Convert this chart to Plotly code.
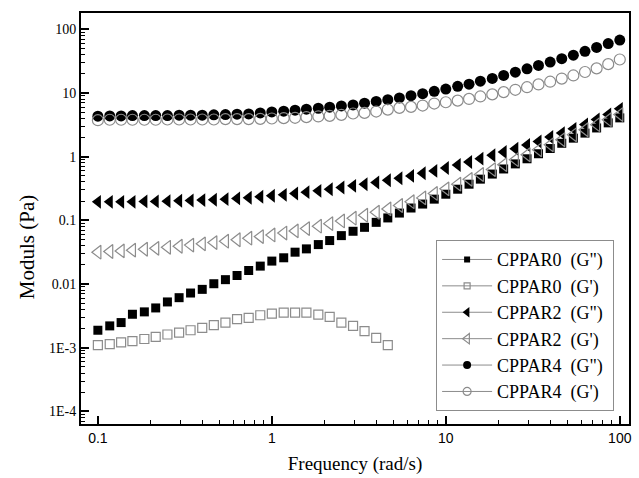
import plotly.graph_objects as go

# Frequency (rad/s), 15 points per decade
freq = [0.1, 0.117, 0.136, 0.158, 0.185, 0.215, 0.251, 0.293, 0.341, 0.398,
        0.464, 0.541, 0.631, 0.736, 0.858, 1.0, 1.17, 1.36, 1.58, 1.85,
        2.15, 2.51, 2.93, 3.41, 3.98, 4.64, 5.41, 6.31, 7.36, 8.58,
        10.0, 11.7, 13.6, 15.8, 18.5, 21.5, 25.1, 29.3, 34.1, 39.8,
        46.4, 54.1, 63.1, 73.6, 85.8, 100.0]

cppar0_gpp = [0.00188, 0.0022, 0.00248, 0.00335, 0.00365, 0.00421, 0.00523, 0.0061, 0.00722, 0.00824,
              0.0101, 0.0117, 0.0136, 0.0163, 0.0191, 0.0229, 0.0258, 0.0316, 0.0356, 0.0416,
              0.0481, 0.0575, 0.0673, 0.0776, 0.0929, 0.109, 0.130, 0.156, 0.180, 0.215,
              0.257, 0.308, 0.369, 0.443, 0.532, 0.640, 0.769, 0.925, 1.11, 1.34,
              1.62, 1.95, 2.34, 2.82, 3.39, 4.06]

cppar0_gp = [0.00110, 0.00114, 0.00121, 0.00127, 0.00137, 0.00148, 0.00161, 0.00173, 0.00188, 0.00205,
             0.00226, 0.00248, 0.0028, 0.00294, 0.00323, 0.00343, 0.00356, 0.00356, 0.00356, 0.00331,
             0.00305, 0.00248, 0.0022, 0.00182, 0.00143, 0.0011]

cppar2_gpp = [0.195, 0.195, 0.195, 0.195, 0.198, 0.198, 0.200, 0.203, 0.205, 0.208,
              0.210, 0.215, 0.221, 0.226, 0.234, 0.243, 0.251, 0.264, 0.277, 0.290,
              0.308, 0.327, 0.348, 0.369, 0.392, 0.426, 0.458, 0.498, 0.548, 0.596,
              0.664, 0.739, 0.824, 0.929, 1.05, 1.18, 1.33, 1.52, 1.73, 2.03,
              2.34, 2.73, 3.20, 3.83, 4.58, 5.62]

cppar2_gp = [0.0316, 0.0324, 0.0331, 0.0340, 0.0351, 0.0363, 0.0377, 0.0392, 0.0408, 0.0427,
             0.0447, 0.0470, 0.0495, 0.0524, 0.0555, 0.0589, 0.0631, 0.0682, 0.0741, 0.0809,
             0.0887, 0.0977, 0.108, 0.120, 0.134, 0.151, 0.171, 0.196, 0.225, 0.264,
             0.312, 0.370, 0.440, 0.524, 0.625, 0.748, 0.895, 1.07, 1.28, 1.53,
             1.84, 2.20, 2.64, 3.17, 3.80, 4.57]

cppar4_gpp = [4.31, 4.36, 4.36, 4.42, 4.42, 4.42, 4.42, 4.47, 4.47, 4.47,
              4.53, 4.58, 4.64, 4.69, 4.86, 5.04, 5.16, 5.35, 5.55, 5.75,
              5.97, 6.26, 6.49, 6.90, 7.35, 7.85, 8.34, 9.07, 9.75, 10.6,
              11.5, 12.7, 13.7, 15.3, 16.9, 18.8, 21.2, 23.9, 27.0, 30.5,
              34.5, 39.2, 45.0, 51.8, 59.5, 67.5]

cppar4_gp = [3.73, 3.79, 3.79, 3.79, 3.79, 3.79, 3.83, 3.83, 3.83, 3.83,
             3.83, 3.88, 3.88, 3.88, 3.92, 3.97, 4.02, 4.07, 4.17, 4.27,
             4.37, 4.53, 4.75, 4.86, 5.10, 5.48, 5.82, 6.04, 6.34, 6.81,
             7.14, 7.58, 8.05, 8.8, 9.5, 10.3, 11.2, 12.3, 13.6, 15.0,
             16.8, 18.8, 21.3, 24.3, 28.3, 33.5]

legend_names = ['CPPAR0\u00a0 (G")\u00a0', "CPPAR0\u00a0 (G')\u00a0", 'CPPAR2\u00a0 (G")\u00a0',
                "CPPAR2\u00a0 (G')\u00a0", 'CPPAR4\u00a0 (G")\u00a0', "CPPAR4\u00a0 (G')\u00a0"]

x_tickvals = [0.1, 1, 10, 100]
x_ticktext = ["0.1", "1", "10", "100"]
y_tickvals = [1e-4, 1e-3, 0.01, 0.1, 1, 10, 100]
y_ticktext = ["1E-4", "1E-3", "0.01", "0.1", "1", "10", "100"]

GRAY = "#8c8c8c"
SERIF = "Liberation Serif, Times New Roman, serif"
SANS = "Liberation Sans, Arial, sans-serif"

series = [
    (freq, cppar0_gpp, "square", 9, "black", "black"),
    (freq[:len(cppar0_gp)], cppar0_gp, "square-open", 9, GRAY, GRAY),
    (freq, cppar2_gpp, "triangle-left", 12, "black", "black"),
    (freq, cppar2_gp, "triangle-left-open", 12, GRAY, GRAY),
    (freq, cppar4_gpp, "circle", 11, "black", "black"),
    (freq, cppar4_gp, "circle-open", 11, GRAY, GRAY),
]

fig = go.Figure()
for i, (xs, ys, sym, sz, col, lcol) in enumerate(series):
    fig.add_trace(go.Scatter(
        x=xs, y=ys, mode="markers", showlegend=False,
        marker=dict(symbol=sym, size=sz, color=col,
                    line=dict(color=lcol, width=1.2 if "open" in sym else 0)),
    ))
# legend entries (line-marker-line samples)
for i, (xs, ys, sym, sz, col, lcol) in enumerate(series):
    fig.add_trace(go.Scatter(
        x=[None], y=[None], mode="lines+markers", name=legend_names[i],
        legendgroup=f"g{i}",
        line=dict(color=GRAY, width=1),
        marker=dict(symbol=sym, size=sz - 3, color=col,
                    line=dict(color=lcol, width=1.2 if "open" in sym else 0)),
    ))

minor_x = [v * m for v in [0.1, 1, 10] for m in range(2, 10)]
minor_y = [v * m for v in [1e-5, 1e-4, 1e-3, 0.01, 0.1, 1, 10, 100] for m in range(2, 10)]

fig.update_layout(
    width=639, height=478,
    margin=dict(l=81, r=7, t=13, b=52),
    paper_bgcolor="white", plot_bgcolor="white",
    legend=dict(
        x=0.648, y=0.031, xanchor="left", yanchor="bottom",
        bordercolor=GRAY, borderwidth=1, bgcolor="white",
        font=dict(family=SERIF, size=18, color="black"),
        tracegroupgap=0, itemwidth=50,
    ),
    xaxis=dict(
        type="log", range=[-1.097, 2.053],
        tickvals=x_tickvals, ticktext=x_ticktext,
        ticks="inside", ticklen=8, tickwidth=1.5, tickcolor="black",
        showline=True, linecolor="black", linewidth=2, mirror=True,
        showgrid=False, zeroline=False,
        tickfont=dict(family=SANS, size=14, color="black"),
        minor=dict(tickvals=minor_x, ticks="inside", ticklen=4, tickwidth=1.2,
                   tickcolor="black", showgrid=False),
        title=dict(text="Frequency (rad/s)", font=dict(family=SERIF, size=19, color="black"),
                   standoff=12),
    ),
    yaxis=dict(
        type="log", range=[-4.198, 2.255],
        tickvals=y_tickvals, ticktext=y_ticktext,
        ticks="inside", ticklen=8, tickwidth=1.5, tickcolor="black",
        showline=True, linecolor="black", linewidth=2, mirror=True,
        showgrid=False, zeroline=False,
        tickfont=dict(family=SERIF, size=14, color="black"),
        minor=dict(tickvals=minor_y, ticks="inside", ticklen=4, tickwidth=1.2,
                   tickcolor="black", showgrid=False),
    ),
    annotations=[dict(
        text="Moduls (Pa)", textangle=-90, showarrow=False,
        xref="paper", yref="paper", x=-0.098, y=0.431,
        xanchor="center", yanchor="middle",
        font=dict(family=SERIF, size=21, color="black"),
    )],
)

fig.write_html("out.html")
